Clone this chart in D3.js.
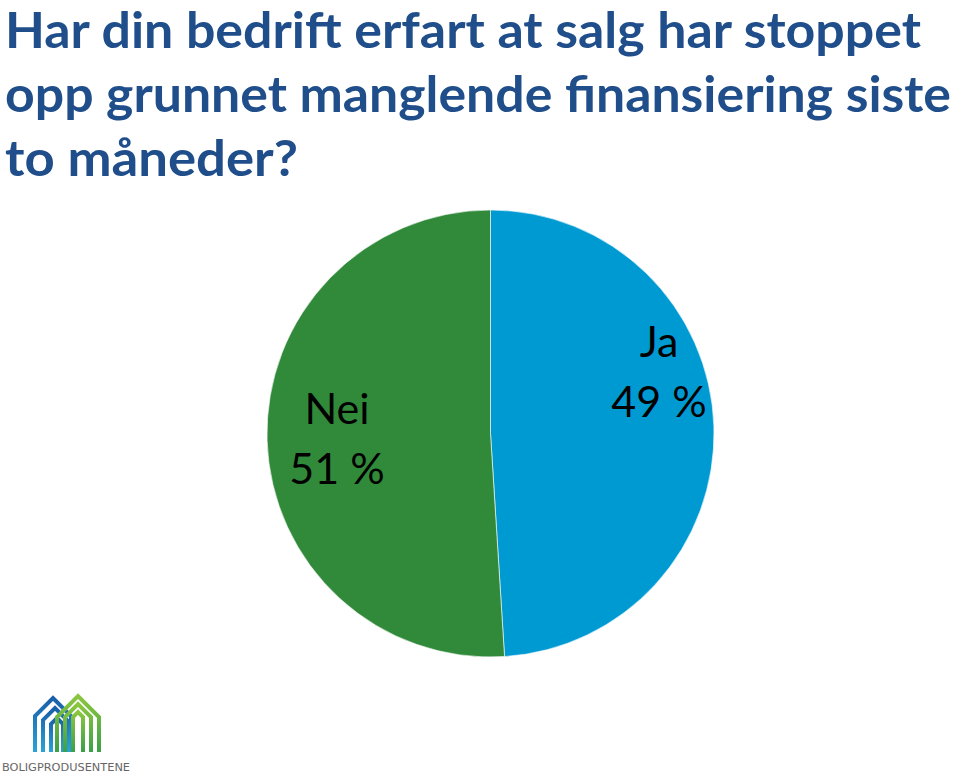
<!DOCTYPE html>
<html><head><meta charset="utf-8">
<script src="https://cdn.jsdelivr.net/npm/d3@7"></script>
<style>body{margin:0;background:#fff}svg{display:block}</style>
</head><body>
<script>
const titleLines = ["Har din bedrift erfart at salg har stoppet", "opp grunnet manglende finansiering siste", "to måneder?"];
const categories = ["Ja", "Nei"];
const values = [49, 51];
const colors = ["#009ad3", "#318a3a"];

const W = 960, H = 773;
const svg = d3.select("body").append("svg").attr("width", W).attr("height", H);

// Title
const titleWidths = [916, 946, 293];
const tt = svg.append("g");
titleLines.forEach((t, i) => {
  tt.append("text").attr("x", 5).attr("y", 48 + i * 64)
    .attr("font-family", "Lato, 'Open Sans', sans-serif").attr("font-weight", 700)
    .attr("font-size", 50).attr("fill", "#1f4e8a")
    .attr("textLength", titleWidths[i]).attr("lengthAdjust", "spacingAndGlyphs")
    .text(t);
});

// Pie
const cx = 490.5, cy = 433.5, R = 223.5;
const pie = d3.pie().sort(null).value(d => d.v);
const data = pie(categories.map((c, i) => ({c, v: values[i], col: colors[i]})));
const arc = d3.arc().innerRadius(0).outerRadius(R);
const g = svg.append("g").attr("transform", `translate(${cx},${cy})`);
g.selectAll("path").data(data).join("path").attr("d", arc).attr("fill", d => d.data.col)
  .attr("stroke", "#fff").attr("stroke-width", 0.6);

// label placement (Excel "best fit"): angle in degrees clockwise from top, radius as fraction of R
const labelLayout = [{deg: 74.6, rf: 0.782}, {deg: 262.4, rf: 0.693}];
const lbl = g.selectAll("text").data(data).join("text")
  .attr("font-family", "Lato, 'Open Sans', sans-serif").attr("font-size", 43).attr("fill", "#000")
  .attr("text-anchor", "middle")
  .attr("transform", (d, i) => {
    const L = labelLayout[i];
    const a = L.deg * Math.PI / 180;
    const r = L.rf * R;
    const [x, y] = d3.arc().innerRadius(r).outerRadius(r).startAngle(a).endAngle(a).centroid();
    return `translate(${x},${y})`;
  });
lbl.append("tspan").attr("x", 0).attr("y", -30).text(d => d.data.c);
lbl.append("tspan").attr("x", 0).attr("y", 30).text(d => d.data.v + " %");

// Logo
const logo = svg.append("g");
const defs = svg.append("defs");
const gb = defs.append("linearGradient").attr("id", "gb").attr("x1", 0).attr("y1", 0).attr("x2", 0).attr("y2", 1);
gb.append("stop").attr("offset", 0).attr("stop-color", "#1a5fa8");
gb.append("stop").attr("offset", 1).attr("stop-color", "#2aa3d8");
const gg = defs.append("linearGradient").attr("id", "gg").attr("x1", 0).attr("y1", 0).attr("x2", 0).attr("y2", 1);
gg.append("stop").attr("offset", 0).attr("stop-color", "#8cc63f");
gg.append("stop").attr("offset", 1).attr("stop-color", "#3aa047");
const roof = (xl, xr, apexY, bottom) => {
  const mid = (xl + xr) / 2, h = (xr - xl) / 2;
  return `M${xl},${bottom} L${xl},${apexY + h} L${mid},${apexY} L${xr},${apexY + h} L${xr},${bottom}`;
};
[[35, 71, 698], [43, 67, 708], [51, 63, 718]].forEach(([a, b, y]) => {
  logo.append("path").attr("d", roof(a, b, y, 752)).attr("fill", "none")
    .attr("stroke", "url(#gb)").attr("stroke-width", 4);
});
[[57, 99, 696], [65, 91, 704], [73, 83, 712]].forEach(([a, b, y]) => {
  logo.append("path").attr("d", roof(a, b, y, 752)).attr("fill", "none")
    .attr("stroke", "url(#gg)").attr("stroke-width", 4);
});
svg.append("text").attr("x", 2).attr("y", 771).attr("font-family", "'DejaVu Sans', sans-serif")
  .attr("font-size", 11).attr("fill", "#666").attr("textLength", 128).attr("lengthAdjust", "spacingAndGlyphs")
  .text("BOLIGPRODUSENTENE");
</script>
</body></html>
